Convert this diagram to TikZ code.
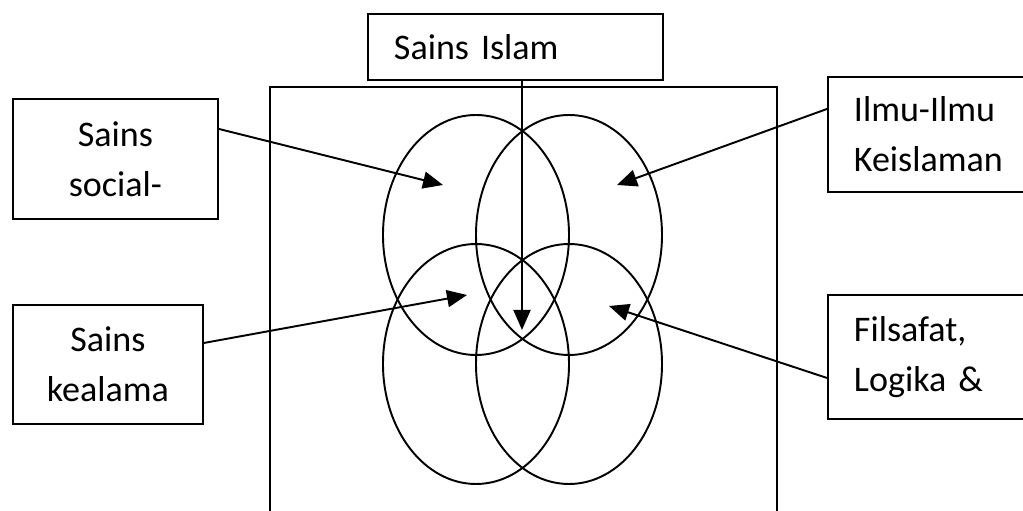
\documentclass[tikz,border=0pt]{standalone}
\usepackage{fontspec}
\setmainfont{Carlito}
\usepackage{tikz}
\usetikzlibrary{arrows.meta}
\tikzset{
  labelbox/.style={rectangle, draw=black, fill=white, line width=1.1pt, font=\fontsize{20.5}{28.5}\selectfont, inner xsep=0.52cm, inner ysep=0pt, anchor=north west},
  leftbox/.style={labelbox, align=left, text width=#1},
  midbox/.style={labelbox, align=center},
  frame/.style={draw=black, line width=1.3pt},
  fieldoval/.style={draw=black, line width=1.1pt},
  pointer/.style={-{Triangle[length=4mm,width=3.4mm]}, line width=1.1pt, draw=black},
}
\begin{document}
\begin{tikzpicture}[x=1cm,y=1cm]

  \clip (0,0) rectangle (20.46,10.22);

  % ---------- frame ----------
  \draw[frame] (5.40,-0.5) -- (5.40,8.48) -- (15.54,8.48) -- (15.54,-0.5);

  % ---------- ovals ----------
  \draw[fieldoval] (9.52,5.52)  ellipse [x radius=1.86, y radius=2.40];
  \draw[fieldoval] (11.38,5.52) ellipse [x radius=1.86, y radius=2.40];
  \draw[fieldoval] (9.52,2.94)  ellipse [x radius=1.86, y radius=2.40];
  \draw[fieldoval] (11.38,2.94) ellipse [x radius=1.86, y radius=2.40];

  % ---------- boxes ----------
  \node[leftbox=4.86cm, minimum height=1.32cm] (islam) at (7.34,9.96) {Sains Islam};
  \node[midbox, minimum width=4.10cm, minimum height=2.40cm] (social) at (0.24,8.26) {Sains\\social-};
  \node[midbox, minimum width=3.80cm, minimum height=2.38cm] (kealama) at (0.24,4.14) {Sains\\kealama};
  \node[leftbox=3.5cm, minimum height=2.30cm] (ilmu) at (16.54,8.70) {Ilmu-Ilmu\\Keislaman};
  \node[leftbox=3.5cm, minimum height=2.48cm] (filsafat) at (16.54,4.34) {Filsafat,\\Logika \&};

  % ---------- arrow tips ----------
  \coordinate (islamTip)    at (10.44,3.62);
  \coordinate (socialTip)   at (8.86,6.52);
  \coordinate (ilmuTip)     at (12.34,6.52);
  \coordinate (kealamaTip)  at (9.34,4.32);
  \coordinate (filsafatTip) at (12.18,4.10);

  % ---------- pointers ----------
  \draw[pointer] (islam.south -| islamTip) -- (islamTip);
  \draw[pointer] ([yshift=0.60cm]social.east) -- (socialTip);
  \draw[pointer] ([yshift=0.51cm]ilmu.west) -- (ilmuTip);
  \draw[pointer] ([yshift=0.43cm]kealama.east) -- (kealamaTip);
  \draw[pointer] ([yshift=-0.42cm]filsafat.west) -- (filsafatTip);

\end{tikzpicture}
\end{document}
